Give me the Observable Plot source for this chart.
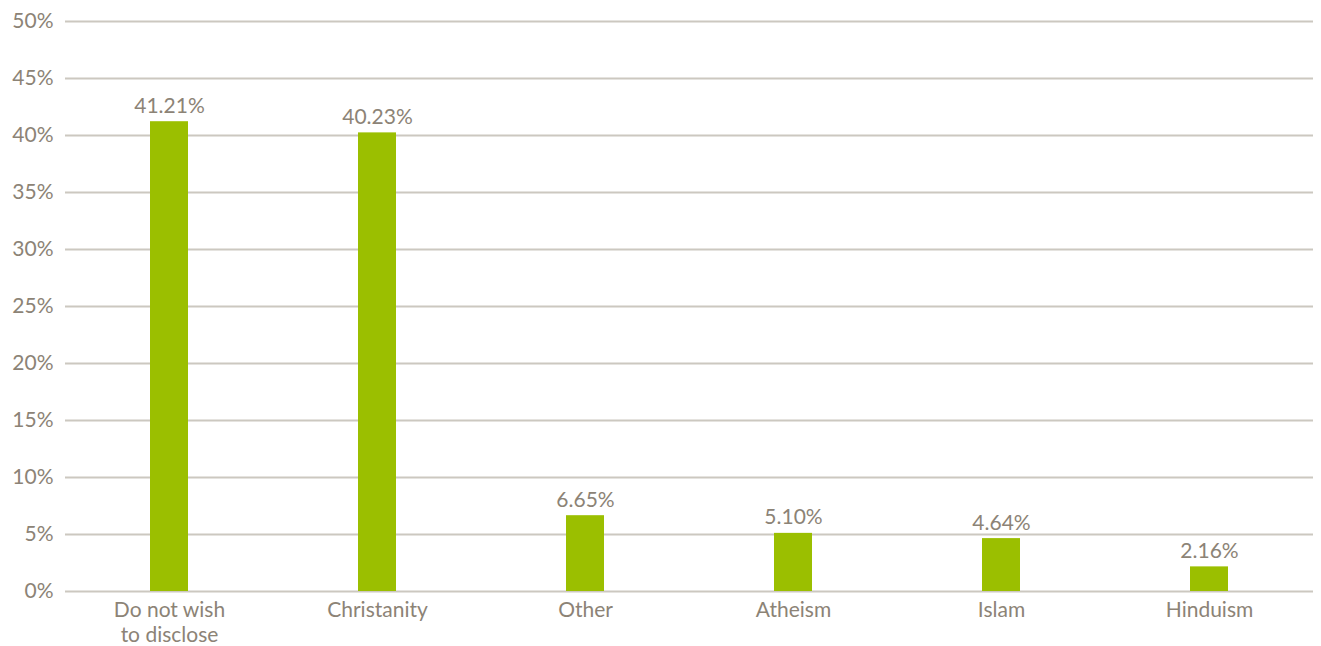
<!DOCTYPE html>
<html>
<head>
<meta charset="utf-8">
<script src="https://cdn.jsdelivr.net/npm/d3@7"></script>
<script src="https://cdn.jsdelivr.net/npm/@observablehq/plot@0.6"></script>
<style>
  html, body { margin: 0; padding: 0; background: #fff; }
  #chart svg { display: block; }
</style>
</head>
<body>
<div id="chart"></div>
<script>
const categories = ["Do not wish to disclose", "Christanity", "Other", "Atheism", "Islam", "Hinduism"];
const values = [41.21, 40.23, 6.65, 5.10, 4.64, 2.16];
const yTicks = [0, 5, 10, 15, 20, 25, 30, 35, 40, 45, 50];

const data = categories.map((c, i) => ({category: c, value: values[i]}));

const textColor = "#8c8376";
const gridColor = "#ccc8c0";
const barColor = "#9bbf00";

const chart = Plot.plot({
  width: 1321,
  height: 646,
  marginLeft: 65,
  marginRight: 8,
  marginTop: 21,
  marginBottom: 55,
  style: {fontFamily: "Lato, 'Open Sans', sans-serif", fontSize: "21px", color: textColor, background: "#fff"},
  x: {domain: categories, padding: 0, label: null},
  y: {domain: [0, 50], label: null},
  marks: [
    Plot.ruleY(yTicks, {stroke: gridColor, strokeWidth: 2}),
    Plot.barY(data, {x: "category", y: "value", fill: barColor, insetLeft: 85, insetRight: 85}),
    Plot.text(data, {x: "category", y: "value", text: d => d.value.toFixed(2) + "%", lineAnchor: "bottom", dy: -9, fill: textColor, fontSize: 21}),
    Plot.axisY({ticks: yTicks, tickSize: 0, tickPadding: 12, tickFormat: d => d + "%", fill: textColor, fontSize: 21}),
    Plot.axisX({tickSize: 0, tickPadding: 8, lineWidth: 6.5, lineHeight: 1.18, fill: textColor, fontSize: 21})
  ]
});
document.getElementById("chart").appendChild(chart);
</script>
</body>
</html>
